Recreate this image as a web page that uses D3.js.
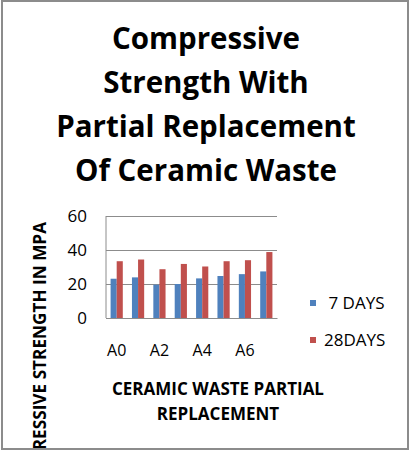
<!DOCTYPE html>
<html lang="en">
<head>
  <meta charset="UTF-8" />
  <title>Compressive Strength</title>
  <style>
    body { margin: 0; background: #fff; }
    svg { display: block; }
    text { font-family: "Open Sans", Lato, sans-serif; fill: #000; }
    .legend text { white-space: pre; }
  </style>
</head>
<body>
  <div id="chart"></div>

  <script src="https://cdnjs.cloudflare.com/ajax/libs/d3/7.8.4/d3.min.js"></script>
  <script>
    // data
    const categories = ["A0", "A1", "A2", "A3", "A4", "A5", "A6", "A7"];
    const days7 = [23.1, 23.9, 19.6, 20.0, 23.3, 24.7, 25.8, 27.4];
    const days28 = [33.4, 34.4, 28.7, 31.8, 30.3, 33.4, 34.0, 38.8];
    const seriesNames = [" 7 DAYS", "28DAYS"];
    const seriesColors = ["#4f81bd", "#c0504d"];
    const yTicks = [0, 20, 40, 60];
    const titleLines = ["Compressive", "Strength With", "Partial Replacement", "Of Ceramic Waste"];
    const xTitleLines = ["CERAMIC WASTE PARTIAL", "REPLACEMENT"];
    const yTitle = "COMPRESSIVE STRENGTH IN MPA";

    const width = 415, height = 455;
    const plot = { left: 106, right: 277, top: 216, bottom: 318 };

    const svg = d3.select("#chart").append("svg")
      .attr("width", width).attr("height", height);

    // outer frame (the y title runs past its bottom edge, as in the original)
    svg.append("defs").append("clipPath").attr("id", "frame")
      .append("rect").attr("x", 3).attr("y", 1).attr("width", 404).attr("height", 447);
    svg.append("rect")
      .attr("x", 2).attr("y", 1).attr("width", 406).attr("height", 448)
      .attr("fill", "#fff").attr("stroke", "#8c8c8c").attr("stroke-width", 2);

    // title
    svg.append("g").selectAll("text")
      .data(titleLines)
      .enter().append("text")
      .attr("x", 206)
      .attr("y", (d, i) => 49 + i * 44)
      .attr("text-anchor", "middle")
      .attr("font-size", 29.5)
      .attr("font-weight", "bold")
      .text(d => d);

    const x = d3.scaleBand().domain(categories).range([plot.left, plot.right]).padding(0);
    const xSub = d3.scaleBand().domain([0, 1]).range([0, x.bandwidth()]).paddingInner(0).paddingOuter(0.75);
    const y = d3.scaleLinear().domain([0, 60]).range([plot.bottom, plot.top]);

    // gridlines + y labels
    const yAxis = svg.append("g")
      .attr("transform", `translate(${plot.left},0)`)
      .call(d3.axisLeft(y).tickValues(yTicks).tickSize(-(plot.right - plot.left)).tickPadding(19));
    yAxis.select(".domain").remove();
    yAxis.selectAll(".tick line").attr("stroke", "#8c8c8c");
    yAxis.selectAll(".tick text").attr("font-size", 17).attr("font-family", "'Open Sans', sans-serif");

    // left axis line
    svg.append("line")
      .attr("x1", plot.left).attr("x2", plot.left)
      .attr("y1", plot.top).attr("y2", plot.bottom)
      .attr("stroke", "#8c8c8c");

    // bars
    const rows = categories.map((c, i) => ({ cat: c, values: [days7[i], days28[i]] }));
    const groups = svg.append("g").selectAll("g")
      .data(rows)
      .enter().append("g")
      .attr("transform", d => `translate(${x(d.cat)},0)`);
    groups.selectAll("rect")
      .data(d => d.values.map((v, s) => ({ v, s })))
      .enter().append("rect")
      .attr("x", d => xSub(d.s))
      .attr("width", xSub.bandwidth())
      .attr("y", d => y(d.v))
      .attr("height", d => y(0) - y(d.v))
      .attr("fill", d => seriesColors[d.s]);

    // x axis
    const xAxis = svg.append("g")
      .attr("transform", `translate(0,${plot.bottom})`)
      .call(d3.axisBottom(x).tickValues(categories.filter((c, i) => i % 2 === 0)).tickSize(0).tickPadding(27));
    xAxis.select(".domain").attr("stroke", "#8c8c8c");
    xAxis.selectAll(".tick text").attr("font-size", 16).attr("font-family", "'Open Sans', sans-serif");

    // x axis title
    svg.append("g").selectAll("text")
      .data(xTitleLines)
      .enter().append("text")
      .attr("x", 218)
      .attr("y", (d, i) => 395 + i * 25)
      .attr("text-anchor", "middle")
      .attr("font-size", 17)
      .attr("font-weight", "bold")
      .text(d => d);

    // y axis title (clipped by frame)
    svg.append("g").attr("clip-path", "url(#frame)")
      .append("text")
      .attr("transform", "translate(46,222) rotate(-90)")
      .attr("text-anchor", "end")
      .attr("font-size", 17.2)
      .attr("font-weight", "bold")
      .text(yTitle);

    // legend
    const legend = svg.append("g").attr("class", "legend").selectAll("g")
      .data(seriesNames)
      .enter().append("g")
      .attr("transform", (d, i) => `translate(310,${303 + i * 37})`);
    legend.append("rect")
      .attr("x", 0).attr("y", -3).attr("width", 6).attr("height", 6)
      .attr("fill", (d, i) => seriesColors[i]);
    legend.append("text")
      .attr("x", 14).attr("y", 6)
      .attr("font-size", 17)
      .text(d => d);
  </script>
</body>
</html>
